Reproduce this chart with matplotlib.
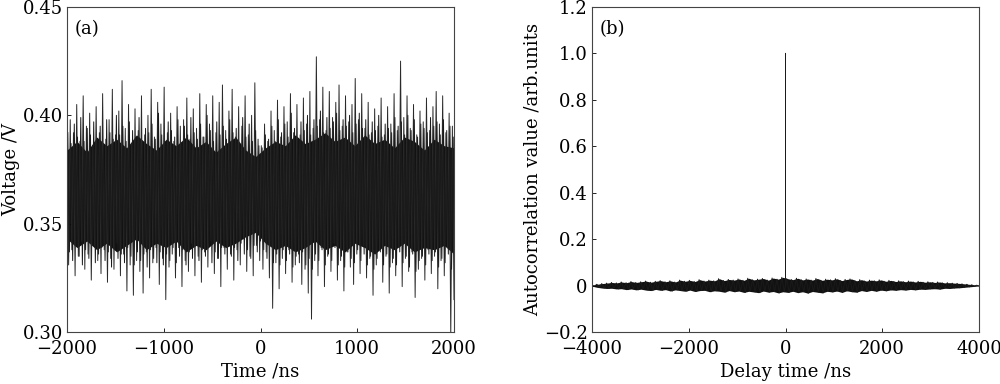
import matplotlib.pyplot as plt
import numpy as np

plt.rcParams['font.family'] = ['DejaVu Serif']
plt.rcParams['font.size'] = 13
plt.rcParams['axes.unicode_minus'] = True

# (a) voltage trace, read as alternating spike tops / spike bottoms
volt_top = [0.384, 0.398, 0.392, 0.405, 0.388, 0.409, 0.395, 0.401, 0.386, 0.404,
            0.392, 0.410, 0.389, 0.398, 0.412, 0.391, 0.402, 0.416, 0.394, 0.405,
            0.387, 0.403, 0.393, 0.409, 0.391, 0.400, 0.412, 0.390, 0.406, 0.396,
            0.413, 0.392, 0.401, 0.388, 0.404, 0.395, 0.398, 0.408, 0.389, 0.403,
            0.394, 0.410, 0.390, 0.405, 0.396, 0.409, 0.392, 0.406, 0.414, 0.393,
            0.402, 0.412, 0.390, 0.404, 0.395, 0.409, 0.391, 0.400, 0.415, 0.389,
            0.386, 0.396, 0.388, 0.402, 0.393, 0.407, 0.390, 0.404, 0.397, 0.410,
            0.392, 0.405, 0.391, 0.408, 0.396, 0.411, 0.394, 0.427, 0.398, 0.413,
            0.393, 0.411, 0.399, 0.406, 0.414, 0.395, 0.409, 0.397, 0.405, 0.417,
            0.398, 0.410, 0.394, 0.406, 0.392, 0.403, 0.395, 0.408, 0.391, 0.404,
            0.396, 0.410, 0.393, 0.425, 0.399, 0.409, 0.394, 0.405, 0.391, 0.402,
            0.397, 0.408, 0.393, 0.404, 0.411, 0.396, 0.409, 0.392, 0.401, 0.395]
volt_bot = [0.331, 0.338, 0.326, 0.335, 0.342, 0.329, 0.336, 0.324, 0.340, 0.333,
            0.327, 0.338, 0.323, 0.334, 0.329, 0.341, 0.326, 0.336, 0.319, 0.331,
            0.317, 0.333, 0.328, 0.318, 0.337, 0.325, 0.332, 0.339, 0.322, 0.334,
            0.315, 0.330, 0.336, 0.325, 0.339, 0.321, 0.333, 0.328, 0.341, 0.326,
            0.335, 0.323, 0.337, 0.330, 0.342, 0.327, 0.334, 0.321, 0.339, 0.329,
            0.336, 0.324, 0.338, 0.331, 0.343, 0.328, 0.335, 0.326, 0.340, 0.333,
            0.329, 0.337, 0.325, 0.311, 0.332, 0.320, 0.334, 0.327, 0.338, 0.323,
            0.331, 0.336, 0.322, 0.329, 0.318, 0.306, 0.333, 0.326, 0.339, 0.321,
            0.335, 0.328, 0.341, 0.324, 0.333, 0.319, 0.337, 0.330, 0.322, 0.336,
            0.327, 0.340, 0.325, 0.334, 0.317, 0.331, 0.338, 0.323, 0.335, 0.318,
            0.332, 0.326, 0.339, 0.321, 0.334, 0.328, 0.337, 0.316, 0.329, 0.334,
            0.324, 0.338, 0.327, 0.335, 0.320, 0.333, 0.326, 0.339, 0.298, 0.315]
# smaller excursions lying between the big spikes
volt_top2 = [0.392, 0.387, 0.396, 0.390, 0.399, 0.388, 0.394, 0.391, 0.397, 0.389,
             0.395, 0.386, 0.398, 0.392, 0.389, 0.400, 0.391, 0.395, 0.388, 0.397,
             0.393, 0.390, 0.399, 0.387, 0.394, 0.392, 0.396, 0.389, 0.401, 0.391,
             0.388, 0.397, 0.393, 0.390, 0.398, 0.387, 0.395, 0.391, 0.399, 0.392,
             0.389, 0.396, 0.390, 0.400, 0.393, 0.388, 0.397, 0.391, 0.395, 0.389,
             0.398, 0.392, 0.394, 0.387, 0.399, 0.390, 0.396, 0.388, 0.393, 0.386,
             0.385, 0.391, 0.389, 0.395, 0.388, 0.398, 0.392, 0.396, 0.390, 0.401,
             0.394, 0.389, 0.397, 0.393, 0.400, 0.391, 0.398, 0.395, 0.402, 0.392,
             0.399, 0.394, 0.397, 0.401, 0.393, 0.398, 0.395, 0.400, 0.392, 0.396,
             0.401, 0.394, 0.398, 0.391, 0.397, 0.393, 0.400, 0.390, 0.396, 0.394,
             0.392, 0.399, 0.395, 0.397, 0.391, 0.400, 0.393, 0.398, 0.390, 0.396,
             0.394, 0.392, 0.399, 0.395, 0.397, 0.391, 0.398, 0.393, 0.395, 0.390]
volt_bot2 = [0.337, 0.333, 0.340, 0.335, 0.331, 0.338, 0.334, 0.341, 0.332, 0.336,
             0.339, 0.333, 0.337, 0.330, 0.338, 0.334, 0.336, 0.332, 0.339, 0.335,
             0.331, 0.337, 0.333, 0.336, 0.330, 0.338, 0.334, 0.332, 0.337, 0.331,
             0.336, 0.333, 0.339, 0.332, 0.335, 0.338, 0.331, 0.337, 0.334, 0.340,
             0.333, 0.338, 0.335, 0.341, 0.332, 0.337, 0.334, 0.339, 0.336, 0.340,
             0.335, 0.339, 0.333, 0.341, 0.336, 0.338, 0.334, 0.340, 0.337, 0.342,
             0.338, 0.334, 0.340, 0.332, 0.336, 0.331, 0.338, 0.333, 0.336, 0.330,
             0.335, 0.332, 0.337, 0.331, 0.334, 0.329, 0.336, 0.333, 0.338, 0.331,
             0.336, 0.333, 0.339, 0.331, 0.335, 0.330, 0.337, 0.334, 0.332, 0.338,
             0.333, 0.336, 0.331, 0.335, 0.329, 0.334, 0.337, 0.331, 0.336, 0.330,
             0.334, 0.331, 0.337, 0.332, 0.335, 0.330, 0.336, 0.328, 0.333, 0.335,
             0.331, 0.336, 0.333, 0.337, 0.330, 0.334, 0.332, 0.336, 0.329, 0.333]
# edges of the solid black core of the trace
core_top = [0.384, 0.388, 0.383, 0.390, 0.386, 0.389, 0.385, 0.391, 0.387, 0.384,
            0.389, 0.386, 0.390, 0.385, 0.388, 0.383, 0.387, 0.390, 0.384, 0.381,
            0.385, 0.388, 0.386, 0.391, 0.387, 0.389, 0.392, 0.388, 0.390, 0.386,
            0.391, 0.387, 0.389, 0.385, 0.390, 0.388, 0.384, 0.389, 0.386, 0.385]
core_bot = [0.343, 0.339, 0.342, 0.338, 0.341, 0.337, 0.340, 0.343, 0.338, 0.341,
            0.339, 0.342, 0.337, 0.340, 0.338, 0.342, 0.339, 0.341, 0.344, 0.346,
            0.341, 0.338, 0.340, 0.337, 0.339, 0.342, 0.338, 0.340, 0.337, 0.341,
            0.339, 0.336, 0.340, 0.338, 0.341, 0.337, 0.339, 0.338, 0.340, 0.336]

# (b) autocorrelation, noise tops / bottoms and the central peak
acf_top = [0.002, 0.006, 0.009, 0.011, 0.014, 0.012, 0.016, 0.013, 0.018, 0.014,
           0.017, 0.020, 0.015, 0.019, 0.022, 0.017, 0.021, 0.016, 0.024, 0.019,
           0.023, 0.018, 0.026, 0.020, 0.024, 0.021, 0.030, 0.022, 0.027, 0.024,
           0.029, 0.023, 0.032, 0.025, 0.028, 0.031, 0.024, 0.033, 0.028, 0.036,
           0.030, 0.026, 0.032, 0.025, 0.029, 0.024, 0.031, 0.023, 0.028, 0.025,
           0.030, 0.022, 0.027, 0.029, 0.021, 0.026, 0.020, 0.024, 0.021, 0.025,
           0.019, 0.023, 0.018, 0.021, 0.017, 0.020, 0.016, 0.019, 0.015, 0.017,
           0.014, 0.016, 0.012, 0.013, 0.011, 0.010, 0.008, 0.006, 0.004, 0.002]
acf_bot = [-0.002, -0.007, -0.010, -0.012, -0.011, -0.014, -0.013, -0.017, -0.014, -0.018,
           -0.015, -0.019, -0.021, -0.016, -0.020, -0.017, -0.023, -0.018, -0.021, -0.024,
           -0.019, -0.025, -0.021, -0.020, -0.026, -0.022, -0.024, -0.028, -0.021, -0.026,
           -0.023, -0.029, -0.024, -0.027, -0.030, -0.023, -0.028, -0.025, -0.031, -0.026,
           -0.029, -0.024, -0.030, -0.026, -0.032, -0.025, -0.028, -0.031, -0.024, -0.027,
           -0.023, -0.029, -0.022, -0.026, -0.028, -0.021, -0.025, -0.020, -0.024, -0.019,
           -0.022, -0.018, -0.020, -0.017, -0.019, -0.016, -0.018, -0.015, -0.016, -0.014,
           -0.013, -0.015, -0.011, -0.012, -0.010, -0.009, -0.007, -0.005, -0.003, -0.001]
acf_peak = 1.0


def zigzag(tops, bots):
    out = np.empty(2 * len(tops))
    out[0::2] = tops
    out[1::2] = bots
    return out


v = zigzag(volt_top, volt_bot)
t = np.linspace(-2000, 2000, len(v))
v2 = zigzag(volt_top2, volt_bot2)
t2 = t + (t[1] - t[0]) / 2
t_core = np.linspace(-2000, 2000, len(core_top))

a = zigzag(acf_top, acf_bot)
lag = np.linspace(-4000, 4000, len(a))
lag_env = np.linspace(-4000, 4000, len(acf_top))
mid = np.searchsorted(lag, 0)
lag = np.insert(lag, mid, [0.0, 0.0, 0.0])
a = np.insert(a, mid, [0.0, acf_peak, 0.0])

fig = plt.figure(figsize=(10, 3.84), dpi=100)
ax1 = fig.add_axes([0.067, 0.135, 0.387, 0.847])
ax2 = fig.add_axes([0.592, 0.135, 0.387, 0.847])

ax1.plot(t, v, color='#2a2a2a', lw=0.7)
ax1.plot(t2, v2, color='#1a1a1a', lw=0.7)
ax1.fill_between(t_core, core_bot, core_top, color='#111111', lw=0)
ax1.set_xlim(-2000, 2000)
ax1.set_ylim(0.30, 0.45)
ax1.set_xticks([-2000, -1000, 0, 1000, 2000])
ax1.set_yticks([0.30, 0.35, 0.40, 0.45])
ax1.set_yticklabels(['0.30', '0.35', '0.40', '0.45'])
ax1.set_xlabel('Time /ns', labelpad=3)
ax1.set_ylabel('Voltage /V', labelpad=2)
ax1.text(0.02, 0.96, '(a)', transform=ax1.transAxes, va='top', ha='left')

ax2.fill_between(lag_env, acf_bot, acf_top, color='#111111', lw=0)
ax2.plot(lag, a, color='#1a1a1a', lw=0.7)
ax2.set_xlim(-4000, 4000)
ax2.set_ylim(-0.2, 1.2)
ax2.set_xticks([-4000, -2000, 0, 2000, 4000])
ax2.set_yticks([-0.2, 0, 0.2, 0.4, 0.6, 0.8, 1.0, 1.2])
ax2.set_yticklabels(['\u22120.2', '0', '0.2', '0.4', '0.6', '0.8', '1.0', '1.2'])
ax2.set_xlabel('Delay time /ns', labelpad=3)
ax2.set_ylabel('Autocorrelation value /arb.units', labelpad=2)
ax2.text(0.02, 0.96, '(b)', transform=ax2.transAxes, va='top', ha='left')

for ax in (ax1, ax2):
    ax.tick_params(direction='in', length=3, width=0.6, top=False, right=False)
    ax.tick_params(axis='x', pad=6)
    ax.tick_params(axis='y', pad=3)
    for s in ax.spines.values():
        s.set_linewidth(0.8)
        s.set_color('#444444')

fig.savefig('out.png', dpi=100)
